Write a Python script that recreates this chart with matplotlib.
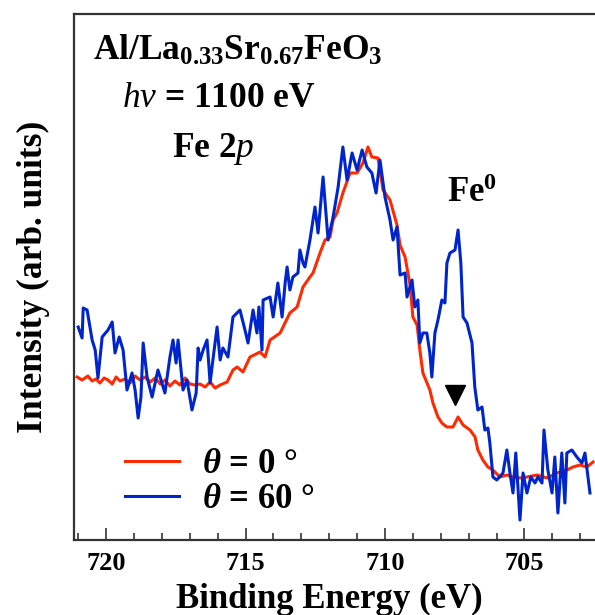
import matplotlib
matplotlib.use("Agg")
import matplotlib.pyplot as plt

plt.rcParams['font.family'] = ['Liberation Serif', 'DejaVu Serif']
plt.rcParams['font.weight'] = 'bold'
plt.rcParams['mathtext.fontset'] = 'custom'
plt.rcParams['mathtext.rm'] = 'Liberation Serif:weight=bold'
plt.rcParams['mathtext.it'] = 'Liberation Serif:style=italic:weight=normal'
plt.rcParams['mathtext.bf'] = 'Liberation Serif:weight=bold'
plt.rcParams['mathtext.sf'] = 'Liberation Serif:style=italic:weight=bold'

# theta = 0 deg spectrum (binding energy in eV, intensity in arb. units)
energy_0 = [721.04, 720.86, 720.65, 720.50, 720.36, 720.22, 720.07, 719.93, 719.78, 719.64,
            719.50, 719.32, 719.14, 718.96, 718.78, 718.60, 718.42, 718.24, 718.06, 717.89,
            717.71, 717.53, 717.35, 717.17, 716.99, 716.81, 716.63, 716.45, 716.27, 716.09,
            715.91, 715.66, 715.45, 715.30, 715.09, 714.84, 714.48, 714.30, 714.12, 713.76,
            713.41, 713.15, 712.94, 712.69, 712.58, 712.33, 712.15, 711.97, 711.86, 711.72,
            711.51, 711.25, 711.00, 710.79, 710.61, 710.47, 710.25, 710.07, 709.82, 709.57,
            709.46, 709.28, 709.10, 709.00, 708.85, 708.75, 708.64, 708.39, 708.28, 708.10,
            707.96, 707.78, 707.56, 707.38, 707.20, 706.95, 706.77, 706.67, 706.49, 706.31,
            706.13, 705.88, 705.63, 705.41, 705.16, 704.91, 704.55, 704.19, 703.84, 703.48,
            703.26, 703.01, 702.76, 702.54]
intensity_0 = [163, 160, 164, 159, 161, 157, 162, 160, 156, 163,
               159, 161, 157, 164, 160, 163, 158, 162, 156, 160,
               154, 159, 155, 162, 156, 155, 156, 153, 158, 152,
               155, 158, 170, 173, 168, 183, 188, 183, 200, 207,
               227, 233, 253, 263, 267, 287, 300, 303, 320, 327,
               347, 367, 367, 377, 393, 383, 382, 350, 340, 315,
               295, 283, 255, 223, 215, 190, 167, 150, 137, 123,
               117, 113, 113, 123, 115, 110, 103, 90, 80, 73,
               70, 63, 65, 63, 62, 63, 65, 62, 67, 70,
               73, 75, 73, 78]

# theta = 60 deg spectrum
energy_60 = [721.00, 720.86, 720.82, 720.68, 720.50, 720.39, 720.29, 720.14, 719.93, 719.78,
             719.68, 719.53, 719.39, 719.25, 719.07, 718.96, 718.85, 718.75, 718.67, 718.53,
             718.35, 718.14, 717.89, 717.71, 717.60, 717.49, 717.42, 717.24, 717.10, 716.92,
             716.77, 716.70, 716.63, 716.52, 716.38, 716.27, 716.17, 716.02, 715.91, 715.81,
             715.63, 715.45, 715.20, 715.02, 714.91, 714.73, 714.59, 714.52, 714.41, 714.37,
             714.12, 714.01, 713.84, 713.69, 713.58, 713.51, 713.41, 713.30, 713.12, 713.05,
             712.94, 712.87, 712.69, 712.51, 712.40, 712.22, 712.04, 711.86, 711.68, 711.51,
             711.36, 711.18, 711.00, 710.82, 710.65, 710.47, 710.32, 710.18, 710.00, 709.82,
             709.71, 709.57, 709.46, 709.28, 709.21, 709.03, 708.93, 708.82, 708.75, 708.64,
             708.50, 708.39, 708.32, 708.21, 708.10, 707.96, 707.85, 707.78, 707.67, 707.49,
             707.38, 707.28, 707.20, 707.06, 706.88, 706.78, 706.67, 706.52, 706.42, 706.31,
             706.24, 706.13, 705.99, 705.77, 705.63, 705.52, 705.41, 705.31, 705.16, 705.05,
             704.91, 704.77, 704.62, 704.52, 704.37, 704.30, 704.16, 704.01, 703.91, 703.80,
             703.66, 703.55, 703.48, 703.30, 703.12, 702.94, 702.83, 702.65]
intensity_60 = [213, 202, 232, 230, 200, 190, 162, 203, 210, 218,
                187, 203, 190, 150, 167, 150, 122, 143, 197, 163,
                143, 170, 147, 183, 200, 177, 200, 150, 160, 130,
                147, 192, 180, 190, 200, 157, 180, 213, 180, 192,
                183, 223, 230, 210, 197, 230, 207, 233, 190, 240,
                243, 223, 257, 223, 257, 273, 250, 263, 267, 290,
                277, 273, 300, 333, 307, 363, 300, 323, 353, 393,
                360, 387, 370, 390, 373, 367, 347, 380, 343, 320,
                300, 313, 265, 267, 243, 260, 233, 240, 197, 207,
                207, 187, 163, 207, 220, 240, 237, 277, 287, 290,
                310, 277, 223, 217, 197, 153, 130, 133, 110, 112,
                97, 63, 60, 67, 90, 67, 47, 87, 20, 67,
                47, 63, 57, 63, 57, 110, 70, 47, 83, 27,
                87, 37, 87, 90, 83, 77, 87, 47]

labels = [r'$\mathsf{\theta}$ = 0 °', r'$\mathsf{\theta}$ = 60 °']
colors = ['#ff2a00', '#0025cc']
fe0_position = (707.5, 145)

fig = plt.figure(figsize=(5.95, 6.15), dpi=100)
ax = fig.add_axes([74 / 595, 75 / 615, 521 / 595, 526 / 615])

l0, = ax.plot(energy_0, intensity_0, color=colors[0], lw=2.2, label=labels[0])
l1, = ax.plot(energy_60, intensity_60, color=colors[1], lw=2.2, label=labels[1])
ax.plot(*fe0_position, marker='v', ms=14, color='black', ls='none')

ax.set_xlim(721.15, 702.47)
ax.set_ylim(0, 526)
ax.set_xticks([720, 715, 710, 705])
ax.set_xticklabels(['720', '715', '710', '705'])
ax.set_xticks(range(703, 722), minor=True)
ax.set_yticks([])
ax.tick_params(axis='x', which='major', direction='in', length=9, width=1.2,
               labelsize=19, pad=9, colors='#333333', labelcolor='black')
ax.tick_params(axis='x', which='minor', direction='in', length=5, width=1.2, colors='#333333')
for side in ['left', 'bottom', 'top']:
    ax.spines[side].set_color('#333333')
    ax.spines[side].set_linewidth(1.6)
ax.spines['right'].set_visible(False)

ax.set_xlabel('Binding Energy (eV)', fontsize=25, fontweight='bold')
ax.xaxis.set_label_coords(0.49, -0.082)
ax.xaxis.label.set_va('top')
ax.set_ylabel('Intensity (arb. units)', fontsize=25.5, fontweight='bold')
ax.yaxis.set_label_coords(-0.046, 0.5)

ax.text(0.036, 0.913, r'Al/La$_{0.33}$Sr$_{0.67}$FeO$_3$', transform=ax.transAxes,
        fontsize=25.5, fontweight='bold', va='baseline')
ax.text(0.092, 0.823, r'$h\nu$ = 1100 eV', transform=ax.transAxes,
        fontsize=25.5, fontweight='bold', va='baseline')
ax.text(0.188, 0.728, r'Fe 2$p$', transform=ax.transAxes,
        fontsize=25.5, fontweight='bold', va='baseline')
ax.text(0.716, 0.643, r'Fe$^0$', transform=ax.transAxes,
        fontsize=25, fontweight='bold', va='baseline')

ax.legend(handles=[l0, l1], loc='lower left', bbox_to_anchor=(0.052, 0.0),
          frameon=False, fontsize=25, handlelength=1.53, handletextpad=0.69,
          labelspacing=0.05, borderpad=0.2)

fig.savefig('out.png', dpi=100)
